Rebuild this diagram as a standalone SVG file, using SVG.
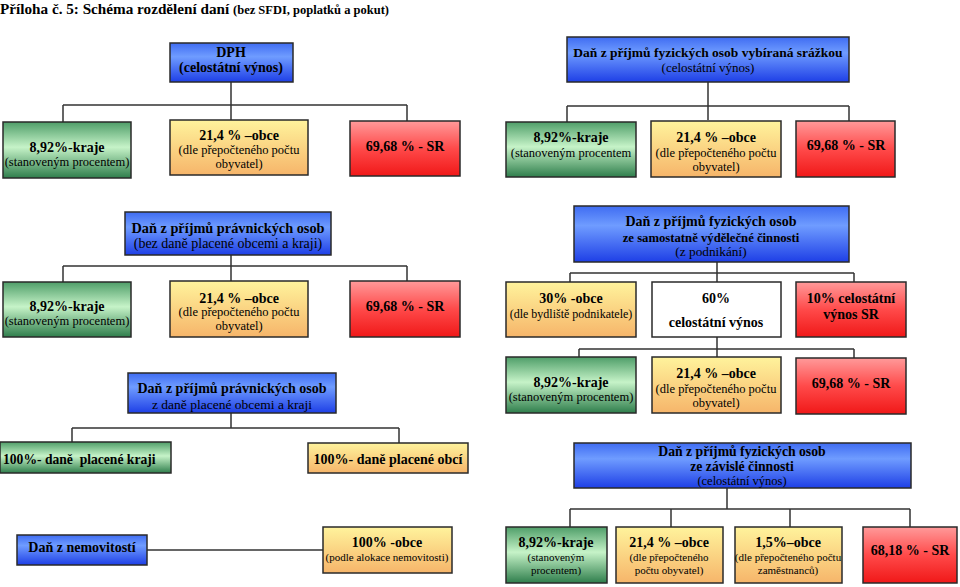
<svg xmlns="http://www.w3.org/2000/svg" width="960" height="587" viewBox="0 0 960 587">
<defs>
<linearGradient id="gBlue" x1="0" y1="0" x2="0" y2="1">
<stop offset="0" stop-color="#3f6cf2"/><stop offset="0.35" stop-color="#6f9cff"/><stop offset="1" stop-color="#1e3fe6"/>
</linearGradient>
<linearGradient id="gGreen" x1="0" y1="0" x2="0" y2="1">
<stop offset="0" stop-color="#4f9e69"/><stop offset="0.45" stop-color="#c6f3c8"/><stop offset="1" stop-color="#2f7e4c"/>
</linearGradient>
<linearGradient id="gYellow" x1="0" y1="0" x2="0" y2="1">
<stop offset="0" stop-color="#fff39c"/><stop offset="1" stop-color="#f6b56a"/>
</linearGradient>
<linearGradient id="gRed" x1="0" y1="0" x2="0" y2="1">
<stop offset="0" stop-color="#ff9a9a"/><stop offset="0.5" stop-color="#ff4a4a"/><stop offset="1" stop-color="#f01818"/>
</linearGradient>
</defs>
<style>
text{font-family:"Liberation Serif","Times New Roman",serif;fill:#000;text-anchor:middle}
.b{font-weight:bold;font-size:14px}
.bt{font-weight:bold;font-size:14px}
.n{font-size:12.5px}
.s{font-size:11px}
.box{stroke:#2a2a2a;stroke-width:1.5}
.blue{fill:url(#gBlue)}
.green{fill:url(#gGreen)}
.yellow{fill:url(#gYellow)}
.red{fill:url(#gRed)}
.white{fill:#fff}
.conn{fill:none;stroke:#333;stroke-width:1.5}
</style>
<text x="0" y="14" style="text-anchor:start;font-weight:bold;font-size:15.2px">Příloha č. 5: Schéma rozdělení daní <tspan style="font-size:12.5px">(bez SFDI, poplatků a pokut)</tspan></text>

<g id="connectors">
<path class="conn" d="M231,82 V105 M63,105 H407 M63,105 V122 M231,105 V120 M407,105 V121"/>
<path class="conn" d="M708,82 V106 M567,106 H849 M567,106 V122 M708,106 V120 M849,106 V121"/>
<path class="conn" d="M231,255 V266 M63,266 H407 M63,266 V282 M231,266 V281 M407,266 V281"/>
<path class="conn" d="M717,262 V273 M570,273 H854 M570,273 V282 M717,273 V282 M854,273 V282"/>
<path class="conn" d="M717,337 V349 M579,349 H854 M579,349 V357 M717,349 V357 M854,349 V358"/>
<path class="conn" d="M231,413 V428 M72,428 H399 M72,428 V442 M399,428 V443"/>
<path class="conn" d="M727,488 V509 M570,509 H910 M570,509 V527 M671,509 V527 M790,509 V527 M910,509 V527"/>
<path class="conn" d="M147,550 H323"/>
</g>

<g id="dph"><rect class="box blue" x="170" y="43" width="123" height="39"/><text class="b" x="231" y="57">DPH</text><text class="bt" x="231" y="72">(celostátní výnos)</text></g>
<g id="dph-kraje"><rect class="box green" x="3" y="122" width="128" height="56"/><text class="b" x="67" y="152">8,92%-kraje</text><text class="n" x="67" y="166">(stanoveným procentem)</text></g>
<g id="dph-obce"><rect class="box yellow" x="170" y="120" width="138" height="55"/><text class="b" x="239" y="140">21,4 % –obce</text><text class="n" x="239" y="154">(dle přepočteného počtu</text><text class="n" x="239" y="168">obyvatel)</text></g>
<g id="dph-sr"><rect class="box red" x="350" y="121" width="110" height="55"/><text class="b" x="405" y="151">69,68 % - SR</text></g>

<g id="dpfo-srazka"><rect class="box blue" x="567" y="37" width="282" height="45"/><text class="bt" x="708" y="57" style="font-size:13.5px">Daň z příjmů fyzických osob vybíraná srážkou</text><text class="n" x="708" y="72" style="font-size:13px">(celostátní výnos)</text></g>
<g id="srazka-kraje"><rect class="box green" x="506" y="122" width="130" height="55"/><text class="b" x="571" y="142">8,92%-kraje</text><text class="n" x="571" y="157">(stanoveným procentem</text></g>
<g id="srazka-obce"><rect class="box yellow" x="651" y="121" width="130" height="56"/><text class="b" x="716" y="142">21,4 % –obce</text><text class="n" x="716" y="157">(dle přepočteného počtu</text><text class="n" x="716" y="171">obyvatel)</text></g>
<g id="srazka-sr"><rect class="box red" x="796" y="121" width="99" height="56"/><text class="b" x="846" y="150">69,68 % - SR</text></g>

<g id="dppo"><rect class="box blue" x="125" y="212" width="206" height="43"/><text class="bt" x="228" y="233" style="font-size:14.3px">Daň z příjmů právnických osob</text><text class="n" x="228" y="248" style="font-size:14px">(bez daně placené obcemi a kraji)</text></g>
<g id="dppo-kraje"><rect class="box green" x="3" y="282" width="128" height="55"/><text class="b" x="67" y="311">8,92%-kraje</text><text class="n" x="67" y="325">(stanoveným procentem)</text></g>
<g id="dppo-obce"><rect class="box yellow" x="170" y="281" width="138" height="56"/><text class="b" x="239" y="303">21,4 % –obce</text><text class="n" x="239" y="316">(dle přepočteného počtu</text><text class="n" x="239" y="330">obyvatel)</text></g>
<g id="dppo-sr"><rect class="box red" x="350" y="281" width="110" height="56"/><text class="b" x="405" y="311">69,68 % - SR</text></g>

<g id="dpfo-osvc"><rect class="box blue" x="574" y="206" width="275" height="56"/><text class="bt" x="711" y="226">Daň z příjmů fyzických osob</text><text class="bt" x="711" y="242" style="font-size:12.7px">ze samostatně výdělečné činnosti</text><text class="s" x="711" y="256" style="font-size:13.3px">(z podnikání)</text></g>
<g id="osvc-obce"><rect class="box yellow" x="506" y="282" width="130" height="55"/><text class="b" x="571" y="303">30% -obce</text><text class="s" x="571" y="318" style="font-size:12px">(dle bydliště podnikatele)</text></g>
<g id="osvc-celostatni"><rect class="box white" x="652" y="282" width="129" height="55"/><text class="b" x="716" y="303">60%</text><text class="b" x="716" y="327">celostátní výnos</text></g>
<g id="osvc-sr"><rect class="box red" x="796" y="282" width="110" height="55"/><text class="b" x="851" y="303">10% celostátní</text><text class="b" x="851" y="319">výnos SR</text></g>

<g id="osvc-kraje"><rect class="box green" x="506" y="357" width="130" height="56"/><text class="b" x="571" y="387">8,92%-kraje</text><text class="n" x="571" y="401">(stanoveným procentem)</text></g>
<g id="osvc-obce2"><rect class="box yellow" x="652" y="357" width="129" height="56"/><text class="b" x="716" y="378">21,4 % –obce</text><text class="n" x="716" y="393">(dle přepočteného počtu</text><text class="n" x="716" y="407">obyvatel)</text></g>
<g id="osvc-sr2"><rect class="box red" x="796" y="358" width="110" height="56"/><text class="b" x="851" y="388">69,68 % - SR</text></g>

<g id="dppo-kraje-obce"><rect class="box blue" x="128" y="373" width="208" height="40"/><text class="bt" x="232" y="393">Daň z příjmů právnických osob</text><text class="n" x="232" y="409" style="font-size:13.5px">z daně placené obcemi a kraji</text></g>
<g id="dane-kraji"><rect class="box green" x="0" y="442" width="171" height="31"/><text class="b" x="3" y="464" style="text-anchor:start;white-space:pre;font-size:13.6px">100%- daně  placené kraji</text></g>
<g id="dane-obci"><rect class="box yellow" x="308" y="443" width="160" height="30"/><text class="b" x="388" y="464">100%- daně placené obcí</text></g>

<g id="dpfo-zavisla"><rect class="box blue" x="574" y="443" width="337" height="45"/><text class="bt" x="742" y="456" style="font-size:13.7px">Daň z příjmů fyzických osob</text><text class="bt" x="742" y="471" style="font-size:13.7px">ze závislé činnosti</text><text class="n" x="742" y="485">(celostátní výnos)</text></g>
<g id="zavisla-kraje"><rect class="box green" x="506" y="527" width="101" height="56"/><text class="b" x="556" y="547">8,92%-kraje</text><text class="s" x="556" y="561">(stanoveným</text><text class="s" x="556" y="574">procentem)</text></g>
<g id="zavisla-obce"><rect class="box yellow" x="616" y="527" width="107" height="56"/><text class="b" x="669" y="547">21,4 % –obce</text><text class="s" x="669" y="561">(dle přepočteného</text><text class="s" x="669" y="574">počtu obyvatel)</text></g>
<g id="zavisla-obce-zam"><rect class="box yellow" x="735" y="527" width="107" height="56"/><text class="b" x="788" y="547">1,5%–obce</text><text class="s" x="788" y="561">(dle přepočteného počtu</text><text class="s" x="788" y="574">zaměstnanců)</text></g>
<g id="zavisla-sr"><rect class="box red" x="863" y="527" width="94" height="56"/><text class="b" x="910" y="555">68,18 % - SR</text></g>

<g id="nemovitosti"><rect class="box blue" x="17" y="535" width="130" height="30"/><text class="b" x="82" y="552">Daň z nemovitostí</text></g>
<g id="nemovitosti-obce"><rect class="box yellow" x="323" y="527" width="129" height="46"/><text class="b" x="387" y="547">100% -obce</text><text class="s" x="387" y="561">(podle alokace nemovitosti)</text></g>
</svg>
